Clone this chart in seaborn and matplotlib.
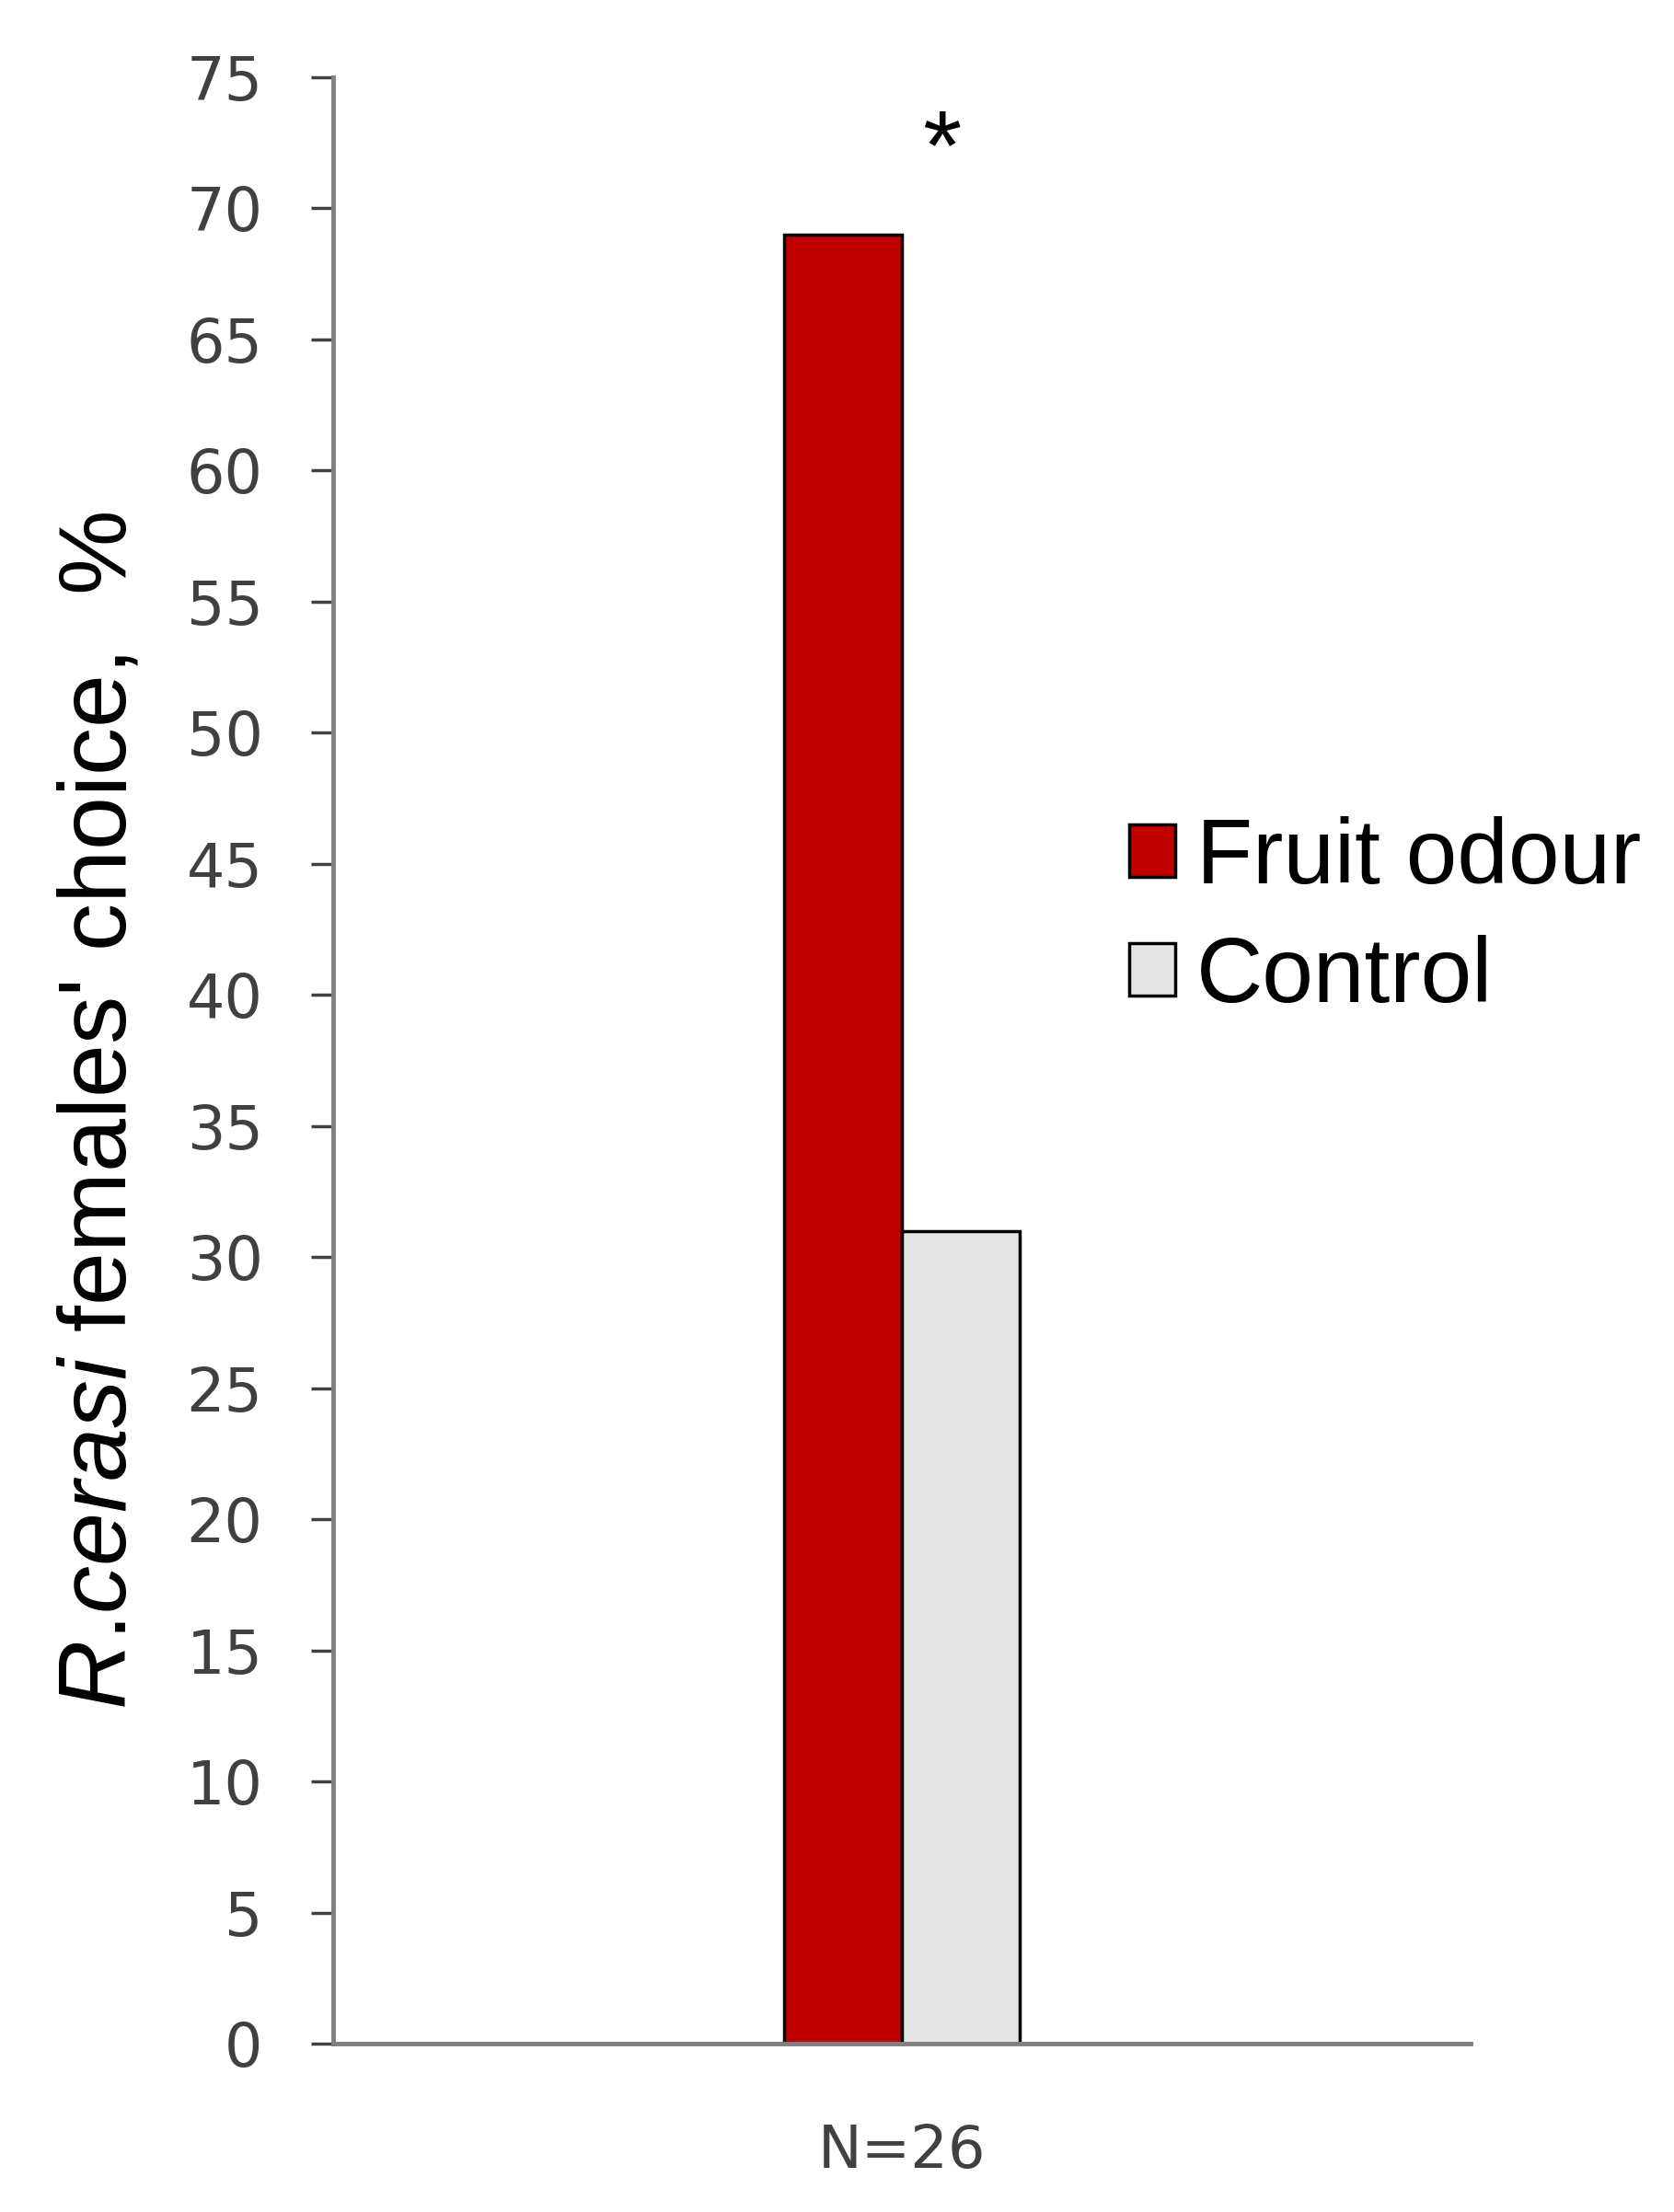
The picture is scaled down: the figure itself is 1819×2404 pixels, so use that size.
import pandas as pd
import matplotlib
matplotlib.use("Agg")
import matplotlib.pyplot as plt
import seaborn as sns

# data
groups = ["N=26", "N=26"]
conditions = ["Fruit odour", "Control"]
choice_pct = [69, 31]
bar_colors = ["#C00000", "#E6E6E6"]
y_ticks = list(range(0, 80, 5))

df = pd.DataFrame({"group": groups, "condition": conditions, "value": choice_pct})

sns.set_style("white")
plt.rcParams["font.family"] = ["Liberation Sans", "DejaVu Sans"]
plt.rcParams["mathtext.fontset"] = "custom"
plt.rcParams["mathtext.it"] = "Liberation Sans:italic"
plt.rcParams["mathtext.rm"] = "Liberation Sans"

fig = plt.figure(figsize=(18.19, 24.04), dpi=100)
ax = fig.add_axes([0.199, 0.0761, 0.6795, 0.889])

sns.barplot(data=df, x="group", y="value", hue="condition", palette=bar_colors,
            saturation=1, width=0.207, edgecolor="black", linewidth=2.5, ax=ax, legend=True)

ax.set_xlim(-0.5, 0.5)
ax.set_ylim(0, 75)
ax.set_yticks(y_ticks)
ax.set_yticklabels([str(t) for t in y_ticks], family="DejaVu Sans", fontsize=47, color="#404040")
ax.tick_params(axis="y", direction="out", length=17, width=2.5, color="#404040", pad=38, left=True)
ax.tick_params(axis="x", length=0, pad=62)
for lbl in ax.get_xticklabels():
    lbl.set_family("DejaVu Sans")
    lbl.set_fontsize(46)
    lbl.set_color("#404040")

for side in ["top", "right"]:
    ax.spines[side].set_visible(False)
for side in ["left", "bottom"]:
    ax.spines[side].set_color("#808080")
    ax.spines[side].set_linewidth(3.5)

ax.set_xlabel("")
ax.set_ylabel(r"$\mathit{R}$.$\mathit{cerasi}$ females' choice,  %", fontsize=75,
              color="black", labelpad=32)
ax.yaxis.label.set_y(0.4745)

# significance mark
ax.text(0.035, 72.1, "*", ha="center", va="center", fontsize=78, color="black")

handles, labels = ax.get_legend_handles_labels()
ax.legend(handles, labels, loc="center left", bbox_to_anchor=(0.6745, 0.5845),
          bbox_transform=fig.transFigure, frameon=False, fontsize=72, labelcolor="black",
          handlelength=0.5, handleheight=0.5, handletextpad=0.23,
          labelspacing=0.35, borderpad=0, borderaxespad=0)

fig.savefig("out.png", dpi=100)
